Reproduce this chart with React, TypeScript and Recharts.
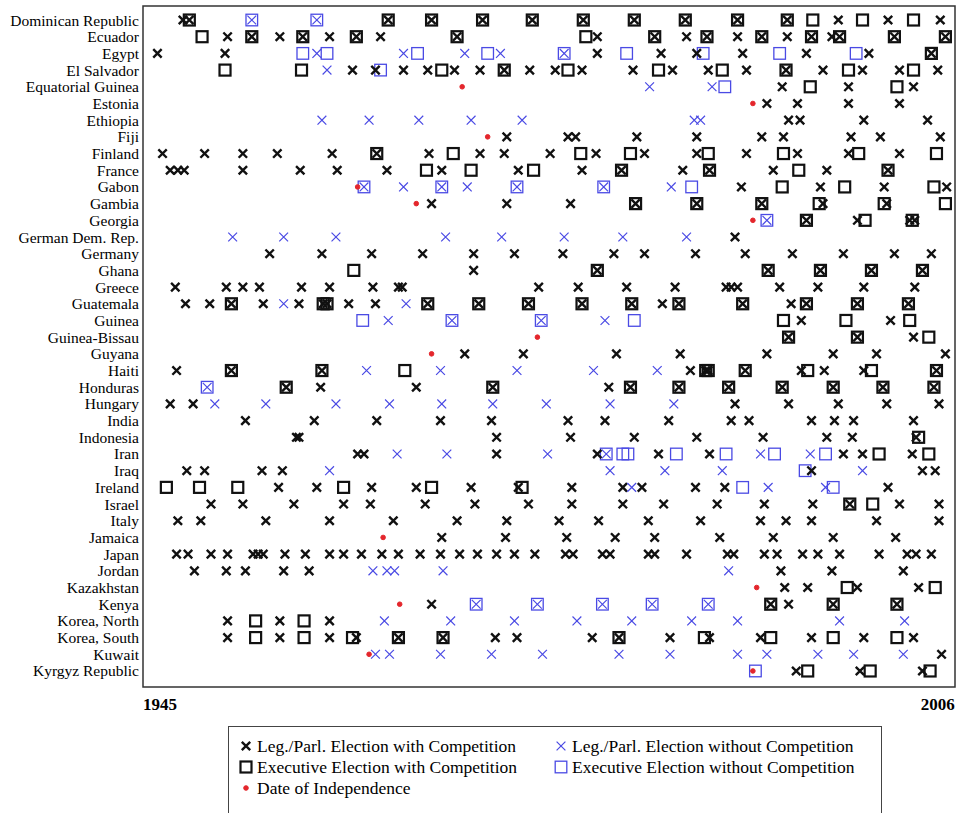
import React from 'react';
import { ScatterChart, Scatter, XAxis, YAxis, ReferenceArea, Legend } from 'recharts';

const countries: string[] = [
  'Dominican Republic', 'Ecuador', 'Egypt', 'El Salvador', 'Equatorial Guinea', 'Estonia', 'Ethiopia', 'Fiji',
  'Finland', 'France', 'Gabon', 'Gambia', 'Georgia', 'German Dem. Rep.', 'Germany', 'Ghana', 'Greece',
  'Guatemala', 'Guinea', 'Guinea-Bissau', 'Guyana', 'Haiti', 'Honduras', 'Hungary', 'India', 'Indonesia',
  'Iran', 'Iraq', 'Ireland', 'Israel', 'Italy', 'Jamaica', 'Japan', 'Jordan', 'Kazakhstan', 'Kenya',
  'Korea, North', 'Korea, South', 'Kuwait', 'Kyrgyz Republic',
];

// Legislative / parliamentary elections with competition (black x), years per country
const legCompYears: number[][] = [
  [1946.8, 1947.3, 1962.9, 1966.3, 1970.3, 1974.2, 1978.2, 1982.2, 1986.2, 1990.3, 1994.2, 1998.2, 2002.1, 2006.2],
  [1950.3, 1952.2, 1954.4, 1956.2, 1958.3, 1960.4, 1962.3, 1968.3, 1979.3, 1983.8, 1986.3, 1987.9, 1990.3, 1992.2, 1994.2, 1996.1, 1997.7, 1998.3, 2002.6, 2006.6],
  [1944.8, 1950.1, 1979.3, 1984.3, 1987.1, 1990.7, 1995.7, 2000.6, 2005.5],
  [1960.1, 1961.9, 1964.1, 1966.0, 1968.1, 1970.1, 1972.0, 1974.0, 1976.0, 1978.1, 1982.1, 1985.2, 1988.0, 1991.0, 1994.1, 1997.0, 2000.1, 2003.0, 2006.0],
  [1993.8, 1999.0, 2004.1],
  [1992.6, 1995.0, 1999.0, 2003.0],
  [1994.3, 1995.2, 2000.2, 2005.2],
  [1972.2, 1977.0, 1977.6, 1982.4, 1987.1, 1992.2, 1993.9, 1999.2, 2001.5, 2006.2],
  [1945.2, 1948.5, 1951.5, 1954.2, 1958.5, 1962.0, 1966.1, 1970.1, 1972.0, 1975.6, 1979.2, 1983.0, 1987.1, 1991.0, 1995.0, 1999.0, 2003.0],
  [1945.8, 1946.4, 1946.9, 1951.5, 1956.0, 1958.9, 1962.8, 1967.1, 1973.1, 1978.1, 1981.2, 1986.0, 1988.1, 1993.1, 1997.3, 2002.1],
  [1990.6, 1996.8, 2001.8, 2006.7],
  [1966.3, 1972.2, 1977.2, 1982.3, 1987.1, 1992.2, 1997.0, 2002.0],
  [1995.7, 1999.7, 2003.8, 2004.2],
  [1990.1],
  [1953.6, 1957.7, 1961.6, 1965.6, 1969.6, 1972.8, 1976.6, 1980.6, 1983.0, 1987.0, 1990.9, 1994.6, 1998.6, 2002.6, 2005.5],
  [1969.6, 1979.3, 1992.7, 1996.8, 2000.8, 2004.8],
  [1946.2, 1950.2, 1951.5, 1952.8, 1956.1, 1958.3, 1961.7, 1963.7, 1964.0, 1974.7, 1977.8, 1981.6, 1985.4, 1989.4, 1989.8, 1990.3, 1993.6, 1996.6, 2000.2, 2004.2],
  [1947.0, 1948.9, 1950.6, 1953.1, 1955.9, 1957.8, 1958.1, 1959.8, 1961.9, 1966.0, 1970.0, 1973.9, 1978.1, 1982.0, 1984.4, 1985.7, 1990.7, 1994.5, 1995.7, 1999.7, 2003.7],
  [1995.3, 2002.3],
  [1994.3, 1999.7, 2004.1],
  [1968.9, 1973.5, 1980.8, 1985.8, 1992.6, 1997.8, 2001.2, 2006.6],
  [1946.3, 1950.6, 1957.7, 1986.6, 1987.8, 1988.0, 1990.9, 1995.3, 1997.1, 2000.2, 2005.9],
  [1954.9, 1957.6, 1965.1, 1971.1, 1980.2, 1981.9, 1985.7, 1989.6, 1993.8, 1997.8, 2001.7, 2005.7],
  [1945.8, 1947.6, 1990.1, 1994.3, 1998.2, 2002.0, 2006.1],
  [1951.7, 1957.1, 1962.0, 1967.0, 1971.0, 1977.0, 1979.9, 1984.9, 1989.8, 1991.2, 1996.1, 1997.9, 1999.4, 2004.1],
  [1955.7, 1955.9, 1971.4, 1977.2, 1982.2, 1987.1, 1992.3, 1997.3, 1999.3, 2004.3],
  [1960.5, 1961.0, 1971.4, 1979.3, 1984.1, 1988.1, 1998.6, 2000.1, 2004.0],
  [1947.1, 1948.5, 1953.0, 1954.6, 1996.1, 2004.8, 2005.8],
  [1954.3, 1957.3, 1961.6, 1965.1, 1969.4, 1973.1, 1977.3, 1981.3, 1982.8, 1987.0, 1989.3, 2002.1],
  [1949.0, 1951.5, 1955.5, 1959.4, 1961.5, 1965.8, 1969.7, 1973.9, 1977.3, 1981.3, 1984.5, 1988.7, 1992.4, 1996.2, 1999.1, 2003.0, 2006.1],
  [1946.4, 1948.2, 1953.3, 1958.3, 1963.3, 1968.3, 1972.2, 1976.3, 1979.4, 1983.3, 1987.4, 1992.1, 1994.1, 1996.1, 2001.2, 2006.1],
  [1967.1, 1972.1, 1976.9, 1980.7, 1983.8, 1988.9, 1993.1, 1997.8, 2002.7],
  [1946.3, 1947.2, 1949.0, 1950.3, 1952.3, 1952.7, 1953.1, 1954.8, 1956.4, 1958.3, 1959.4, 1960.8, 1962.4, 1963.7, 1965.4, 1967.0, 1968.5, 1969.9, 1971.4, 1972.8, 1974.4, 1976.8, 1977.4, 1979.7, 1980.3, 1983.3, 1983.8, 1986.3, 1989.5, 1990.0, 1992.4, 1993.4, 1995.4, 1996.6, 1998.3, 2001.4, 2003.6, 2004.3, 2005.5],
  [1947.7, 1950.2, 1951.7, 1954.7, 1956.7, 1993.7, 1997.7, 2003.3],
  [1994.0, 1995.8, 1999.7, 2004.5],
  [1966.3, 1992.9, 1994.3, 1997.8, 2002.8],
  [1950.3, 1954.4, 1958.3],
  [1950.3, 1954.4, 1958.3, 1960.4, 1963.7, 1967.2, 1971.3, 1973.0, 1978.9, 1981.0, 1985.0, 1988.1, 1992.1, 1996.1, 2000.2, 2004.1],
  [2006.3],
  [1994.9, 1999.9, 2004.8],
];

// Executive elections with competition (black square)
const execCompYears: number[][] = [
  [1947.3, 1962.9, 1966.3, 1970.3, 1974.2, 1978.2, 1982.2, 1986.2, 1990.3, 1994.2, 1996.2, 2000.1, 2004.1],
  [1948.3, 1952.2, 1956.2, 1960.4, 1968.3, 1978.4, 1983.8, 1987.9, 1992.2, 1996.1, 1998.3, 2002.6, 2006.6],
  [2005.5],
  [1950.1, 1956.1, 1967.1, 1972.0, 1977.0, 1984.1, 1989.1, 1994.1, 1999.0, 2004.1],
  [1996.0, 2002.8],
  [],
  [],
  [],
  [1962.0, 1968.0, 1978.0, 1981.9, 1988.0, 1993.9, 1999.8, 2005.9],
  [1965.9, 1969.4, 1974.3, 1981.2, 1988.1, 1995.1, 2002.1],
  [1993.8, 1998.7, 2005.7],
  [1982.3, 1987.1, 1992.2, 1996.7, 2001.8, 2006.6],
  [1995.7, 2000.3, 2004.0],
  [],
  [],
  [1960.2, 1979.3, 1992.7, 1996.8, 2000.8, 2004.8],
  [],
  [1950.6, 1957.8, 1958.1, 1966.0, 1970.0, 1973.9, 1978.1, 1982.0, 1985.7, 1990.7, 1995.7, 1999.7, 2003.7],
  [1993.9, 1998.8, 2003.8],
  [1994.3, 1999.7, 2005.3],
  [],
  [1950.6, 1957.7, 1964.2, 1987.8, 1988.0, 1990.9, 1995.8, 2000.8, 2005.9],
  [1954.9, 1971.1, 1981.9, 1985.7, 1989.6, 1993.8, 1997.8, 2001.7, 2005.7],
  [],
  [],
  [2004.5],
  [2001.4, 2005.3],
  [],
  [1945.5, 1948.1, 1951.1, 1959.4, 1966.3, 1973.4],
  [1999.1, 2000.9],
  [],
  [],
  [],
  [],
  [1998.9, 2005.8],
  [1992.9, 1997.8, 2002.8],
  [1952.5, 1956.3],
  [1952.5, 1956.3, 1960.1, 1963.7, 1967.2, 1981.0, 1987.7, 1992.9, 1997.8, 2002.8],
  [],
  [1995.8, 2000.7, 2005.4],
];

// Legislative / parliamentary elections without competition (blue x)
const legNonYears: number[][] = [
  [1952.2, 1957.3], [], [1957.3, 1964.1, 1968.9, 1971.7, 1976.7], [1958.1], [1983.4, 1988.3], [],
  [1957.7, 1961.4, 1965.3, 1969.4, 1973.4, 1986.9, 1987.4], [], [], [],
  [1961.0, 1964.1, 1967.1, 1969.1, 1973.0, 1979.8, 1985.1], [], [1992.6],
  [1950.7, 1954.7, 1958.8, 1967.4, 1971.8, 1976.7, 1981.3, 1986.3], [], [], [],
  [1954.7, 1964.3], [1962.9, 1967.9, 1974.9, 1979.9], [], [],
  [1961.2, 1967.0, 1973.0, 1979.0, 1984.0], [1948.7],
  [1949.3, 1953.3, 1958.8, 1963.0, 1967.1, 1971.1, 1975.3, 1980.3, 1985.3], [], [],
  [1963.6, 1967.5, 1975.4, 1980.0, 1992.1, 1996.0], [1958.3, 1980.3, 1984.6, 1989.1, 2000.1],
  [1982.0, 1992.7, 1997.2], [], [], [], [], [1961.7, 1962.8, 1963.4, 1967.2, 1989.6], [],
  [1969.8, 1974.6, 1979.7, 1983.6, 1988.0],
  [1962.6, 1967.8, 1972.8, 1977.7, 1982.0, 1986.7, 1990.3, 1998.3, 2003.4], [],
  [1961.9, 1963.0, 1967.0, 1971.0, 1975.0, 1981.0, 1985.0, 1990.3, 1992.6, 1996.6, 1999.4, 2003.3], [],
];

// Executive elections without competition (blue square)
const execNonYears: number[][] = [
  [1952.2, 1957.3], [], [1956.2, 1958.1, 1965.2, 1970.7, 1976.7, 1981.6, 1987.6, 1993.6, 1999.6], [1962.3],
  [1989.3], [], [], [], [], [], [1961.0, 1967.1, 1973.0, 1979.8, 1986.7], [], [1992.6], [], [], [], [], [],
  [1960.9, 1967.9, 1974.9, 1982.2], [], [], [], [1948.7], [], [], [],
  [1980.0, 1981.3, 1981.7, 1985.5, 1989.4, 1993.2, 1997.2], [1995.6], [1990.7, 1997.8], [], [], [], [], [],
  [], [1969.8, 1974.6, 1979.7, 1983.6, 1988.0], [], [], [], [1991.7],
];

// Date of independence (red dot), null where none
const independenceYears: (number | null)[] = [
  null, null, null, null, 1968.7, 1991.5, null, 1970.7, null, null, 1960.5, 1965.1, 1991.5, null, null, null,
  null, null, null, 1974.6, 1966.3, null, null, null, null, null, null, null, null, null, null, 1962.5, null,
  null, 1991.8, 1963.8, null, null, 1961.4, 1991.5,
];

const xTicks: number[] = [1945, 2006];

const legendLabels = {
  legComp: 'Leg./Parl. Election with Competition',
  execComp: 'Executive Election with Competition',
  indep: 'Date of Independence',
  legNon: 'Leg./Parl. Election without Competition',
  execNon: 'Executive Election without Competition',
};

const BLACK = '#111111';
const BLUE = '#4a4ae4';
const RED = '#e4262c';
const FONT = '"Liberation Serif", "Times New Roman", serif';

const X_DOMAIN: [number, number] = [1943.667, 2007.353];
const Y_DOMAIN: [number, number] = [-0.84, 39.96];

function toPoints(rows: number[][]) {
  const pts: { x: number; y: number }[] = [];
  rows.forEach((years, i) => years.forEach((x) => pts.push({ x, y: i })));
  return pts;
}

const indepPoints = independenceYears
  .map((x, i) => (x === null ? null : { x, y: i }))
  .filter((p) => p !== null) as { x: number; y: number }[];

const crossPath = (cx: number, cy: number, h: number) =>
  `M${cx - h},${cy - h}L${cx + h},${cy + h}M${cx - h},${cy + h}L${cx + h},${cy - h}`;

const BlackCross = (p: any) => <path d={crossPath(p.cx, p.cy, 4.2)} stroke={BLACK} strokeWidth={2.4} fill="none" />;
const BlueCross = (p: any) => <path d={crossPath(p.cx, p.cy, 4.4)} stroke={BLUE} strokeWidth={1.2} fill="none" />;
const BlackSquare = (p: any) => (
  <rect x={p.cx - 5.5} y={p.cy - 5.5} width={11} height={11} stroke={BLACK} strokeWidth={2.2} fill="none" />
);
const BlueSquare = (p: any) => (
  <rect x={p.cx - 5.8} y={p.cy - 5.8} width={11.6} height={11.6} stroke={BLUE} strokeWidth={1.3} fill="none" />
);
const RedDot = (p: any) => <circle cx={p.cx} cy={p.cy} r={2.3} fill={RED} stroke={RED} strokeWidth={1} />;

const LegendBox = () => {
  const item = (left: number, top: number, icon: React.ReactNode, label: string) => (
    <div style={{ position: 'absolute', left, top: top - 11, height: 22, display: 'flex', alignItems: 'center' }}>
      <svg width={14} height={14} style={{ marginRight: 4 }}>
        {icon}
      </svg>
      <span style={{ fontFamily: FONT, fontSize: 17.5, color: '#000', whiteSpace: 'nowrap' }}>{label}</span>
    </div>
  );
  return (
    <div
      style={{
        position: 'relative',
        width: 654,
        height: 100,
        border: '1px solid #444',
        boxSizing: 'border-box',
        background: '#fff',
      }}
    >
      {item(10, 19, <BlackCross cx={7} cy={7} />, legendLabels.legComp)}
      {item(10, 40, <BlackSquare cx={7} cy={7} />, legendLabels.execComp)}
      {item(10, 61, <RedDot cx={7} cy={7} />, legendLabels.indep)}
      {item(325, 19, <BlueCross cx={7} cy={7} />, legendLabels.legNon)}
      {item(325, 40, <BlueSquare cx={7} cy={7} />, legendLabels.execNon)}
    </div>
  );
};

export default function App() {
  return (
    <div style={{ position: 'absolute', left: 0, top: 0, background: '#fff' }}>
      <ScatterChart width={960} height={813} margin={{ top: 6, right: 5, bottom: 96, left: 0 }}>
        <XAxis
          type="number"
          dataKey="x"
          domain={X_DOMAIN}
          allowDataOverflow
          ticks={xTicks}
          axisLine={false}
          tickLine={false}
          tickSize={0}
          tickMargin={11}
          height={30}
          tick={{ fontFamily: FONT, fontSize: 17, fontWeight: 'bold', fill: '#000' }}
        />
        <YAxis
          type="number"
          dataKey="y"
          domain={Y_DOMAIN}
          allowDataOverflow
          reversed
          ticks={countries.map((_, i) => i)}
          interval={0}
          tickFormatter={(v: number) => countries[v] ?? ''}
          axisLine={false}
          tickLine={false}
          tickSize={0}
          tickMargin={4}
          width={143}
          tick={{ fontFamily: FONT, fontSize: 15.5, fill: '#000' }}
        />
        <ReferenceArea
          x1={X_DOMAIN[0]}
          x2={X_DOMAIN[1]}
          y1={Y_DOMAIN[0]}
          y2={Y_DOMAIN[1]}
          fill="none"
          stroke="#333"
          strokeWidth={1.5}
          ifOverflow="visible"
        />
        <Scatter name="execComp" data={toPoints(execCompYears)} shape={BlackSquare} isAnimationActive={false} />
        <Scatter name="execNon" data={toPoints(execNonYears)} shape={BlueSquare} isAnimationActive={false} />
        <Scatter name="legComp" data={toPoints(legCompYears)} shape={BlackCross} isAnimationActive={false} />
        <Scatter name="legNon" data={toPoints(legNonYears)} shape={BlueCross} isAnimationActive={false} />
        <Scatter name="indep" data={indepPoints} shape={RedDot} isAnimationActive={false} />
        <Legend
          layout="horizontal"
          verticalAlign="middle"
          align="center"
          width={654}
          height={100}
          wrapperStyle={{ left: 228, top: 726, width: 654, height: 100 }}
          content={() => <LegendBox />}
        />
      </ScatterChart>
    </div>
  );
}
